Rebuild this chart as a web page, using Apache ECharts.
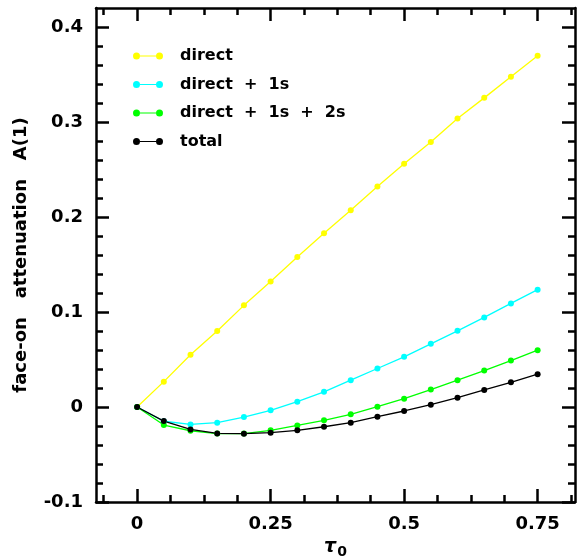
<!DOCTYPE html>
<html>
<head>
<meta charset="utf-8">
<script src="https://cdn.jsdelivr.net/npm/echarts@6/dist/echarts.min.js"></script>
<style>
html,body{margin:0;padding:0;background:#fff;}
#chart{width:579px;height:559px;}
</style>
</head>
<body>
<div id="chart"></div>
<script>
// ---- data ----
var tau = [0, 0.05, 0.1, 0.15, 0.2, 0.25, 0.3, 0.35, 0.4, 0.45, 0.5, 0.55, 0.6, 0.65, 0.7, 0.75];
var direct = [0, 0.0267, 0.055, 0.080, 0.107, 0.132, 0.158, 0.183, 0.207, 0.232, 0.256, 0.279, 0.3036, 0.3254, 0.3476, 0.3697];
var direct1s = [0, -0.015, -0.0183, -0.0165, -0.0106, -0.0035, 0.0056, 0.016, 0.0282, 0.0405, 0.0528, 0.0665, 0.0802, 0.0943, 0.109, 0.1235];
var direct1s2s = [0, -0.019, -0.025, -0.028, -0.028, -0.0246, -0.0194, -0.014, -0.0077, 0.0003, 0.0088, 0.0183, 0.0282, 0.0383, 0.0489, 0.0598];
var total = [0, -0.0148, -0.0236, -0.0278, -0.0281, -0.027, -0.0246, -0.0208, -0.0165, -0.0102, -0.0042, 0.0024, 0.0098, 0.0179, 0.026, 0.0345];
var seriesNames = ['direct', 'direct  +  1s', 'direct  +  1s  +  2s', 'total'];
var xMajor = [0, 0.25, 0.5, 0.75];
var xMinor = [-0.0625, 0.0625, 0.125, 0.1875, 0.3125, 0.375, 0.4375, 0.5625, 0.625, 0.6875, 0.8125];
var yMajor = [-0.1, 0, 0.1, 0.2, 0.3, 0.4];
var yMinor = [-0.08, -0.06, -0.04, -0.02, 0.02, 0.04, 0.06, 0.08, 0.12, 0.14, 0.16, 0.18, 0.22, 0.24, 0.26, 0.28, 0.32, 0.34, 0.36, 0.38];

var colors = ['#ffff00', '#00ffff', '#00ff00', '#000000'];
var allValues = [direct, direct1s, direct1s2s, total];

var FONT = 'DejaVu Sans';
var XMIN = -0.077, XMAX = 0.82, YMIN = -0.1, YMAX = 0.42;

function fmt(v) {
  if (Math.abs(v) < 1e-9) return '0';
  return (v < 0 ? '-' : '') + String(+Math.abs(v).toFixed(2));
}

function xAx(pos, vals, len, major, extra) {
  var a = {
    type: 'value', position: pos, min: XMIN, max: XMAX,
    axisLine: {show: major, onZero: false, lineStyle: {color: '#000', width: 2.5}},
    axisTick: {show: true, inside: true, length: len, customValues: vals, lineStyle: {color: '#000', width: 2.5}},
    axisLabel: {show: false},
    splitLine: {show: false}
  };
  for (var k in extra) a[k] = extra[k];
  return a;
}
function yAx(pos, vals, len, major, extra) {
  var a = {
    type: 'value', position: pos, min: YMIN, max: YMAX,
    axisLine: {show: major, onZero: false, lineStyle: {color: '#000', width: 2.5}},
    axisTick: {show: true, inside: true, length: len, customValues: vals, lineStyle: {color: '#000', width: 2.5}},
    axisLabel: {show: false},
    splitLine: {show: false}
  };
  for (var k in extra) a[k] = extra[k];
  return a;
}

var legendIcon = 'path://M0,3.5 A3.5,3.5 0 1,1 7,3.5 A3.5,3.5 0 1,1 0,3.5 Z M7,2.9 L23,2.9 L23,4.1 L7,4.1 Z M23,3.5 A3.5,3.5 0 1,1 30,3.5 A3.5,3.5 0 1,1 23,3.5 Z';

var series = allValues.map(function (vals, i) {
  return {
    name: seriesNames[i],
    type: 'line',
    xAxisIndex: 0, yAxisIndex: 0,
    data: tau.map(function (t, j) { return [t, vals[j]]; }),
    symbol: 'circle', symbolSize: 6,
    lineStyle: {color: colors[i], width: 1.3},
    itemStyle: {color: colors[i]},
    animation: false
  };
});

var option = {
  backgroundColor: '#fff',
  animation: false,
  grid: {left: 96, right: 4, top: 8, bottom: 57, containLabel: false, outerBoundsMode: 'none'},
  legend: {
    orient: 'vertical', left: 133, top: 48, padding: 0,
    itemWidth: 30, itemHeight: 7, itemGap: 12.5,
    icon: legendIcon,
    data: seriesNames,
    textStyle: {fontFamily: FONT, fontWeight: 'bold', fontSize: 16, color: '#000', lineHeight: 16, padding: [0, 0, 0, 12]}
  },
  xAxis: [
    xAx('bottom', xMajor, 13, true, {
      axisLabel: {show: true, customValues: xMajor, formatter: fmt, margin: 13,
        fontFamily: FONT, fontWeight: 'bold', fontSize: 18, color: '#000'},
      name: '{t|\u03c4}{s|0}', nameLocation: 'middle', nameGap: 33,
      nameTextStyle: {
        rich: {
          t: {fontFamily: FONT, fontWeight: 'bold', fontStyle: 'italic', fontSize: 19, color: '#000'},
          s: {fontFamily: FONT, fontWeight: 'bold', fontSize: 14, color: '#000', padding: [10, 0, 0, 1]}
        }
      }
    }),
    xAx('bottom', xMinor, 7, false, {}),
    xAx('top', xMajor, 13, true, {}),
    xAx('top', xMinor, 7, false, {})
  ],
  yAxis: [
    yAx('left', yMajor, 13, true, {
      axisLabel: {show: true, customValues: yMajor, formatter: fmt, margin: 13,
        fontFamily: FONT, fontWeight: 'bold', fontSize: 18, color: '#000'},
      name: 'face-on   attenuation   A(1)', nameLocation: 'middle', nameGap: 66, nameRotate: 90,
      nameTextStyle: {fontFamily: FONT, fontWeight: 'bold', fontSize: 18, color: '#000'}
    }),
    yAx('left', yMinor, 7, false, {}),
    yAx('right', yMajor, 13, true, {}),
    yAx('right', yMinor, 7, false, {})
  ],
  series: series
};

var chart = echarts.init(document.getElementById('chart'), null, {renderer: 'canvas'});
chart.setOption(option);
</script>
</body>
</html>
